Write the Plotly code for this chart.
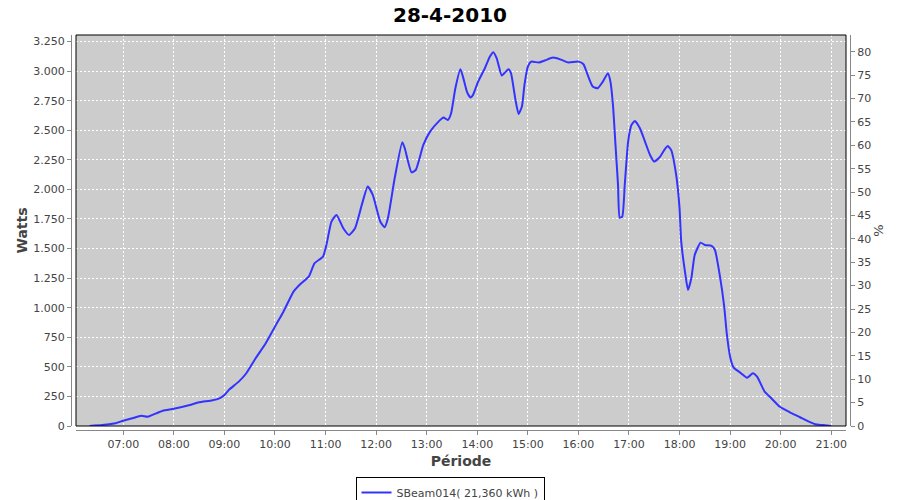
import plotly.graph_objects as go

DAY = "2010-04-28"
times = ["06:20","06:35","06:51","07:00","07:11","07:21","07:29","07:39","07:47","08:00",
         "08:19","08:30","08:46","08:54","09:00","09:06","09:17","09:26","09:37","09:49",
         "10:00","10:10","10:22","10:29","10:40","10:47","10:57","11:01","11:07","11:13",
         "11:21","11:28","11:35","11:43","11:50","11:56","12:05","12:10","12:14","12:22",
         "12:31","12:34","12:42","12:47","12:56","13:04","13:14","13:20","13:25","13:29",
         "13:34","13:40","13:43","13:48","13:52","13:55","14:01","14:09","14:15","14:19",
         "14:23","14:29","14:32","14:37","14:40","14:45","14:49","14:53","14:56","15:00",
         "15:04","15:13","15:20","15:30","15:40","15:48","16:00","16:06","16:11","16:17",
         "16:23","16:29","16:35","16:38","16:41","16:44","16:47","16:49","16:52","16:55",
         "16:59","17:03","17:07","17:13","17:19","17:25","17:30","17:37","17:42","17:46",
         "17:50","17:56","18:00","18:02","18:07","18:10","18:14","18:18","18:25","18:30",
         "18:38","18:42","18:48","18:53","18:56","19:00","19:04","19:12","19:20","19:27",
         "19:32","19:41","19:49","19:59","20:11","20:23","20:31","20:41","20:50","21:00"]
watts = [0,8,23,45,65,87,79,107,129,146,
         178,200,217,234,262,310,375,446,572,699,
         840,966,1136,1192,1262,1376,1432,1530,1727,1784,
         1672,1615,1672,1869,2024,1953,1727,1680,1756,2094,
         2399,2348,2145,2164,2376,2488,2573,2607,2587,2644,
         2855,3016,2953,2820,2776,2799,2911,3024,3123,3160,
         3109,2962,2982,3016,2982,2771,2638,2700,2883,3038,
         3080,3072,3089,3114,3095,3072,3080,3058,2968,2869,
         2855,2911,2982,2911,2714,2376,2038,1761,1770,2038,
         2404,2545,2579,2517,2404,2291,2235,2277,2334,2367,
         2334,2122,1841,1558,1277,1150,1249,1446,1550,1530,
         1522,1488,1263,1009,784,586,496,451,408,446,
         417,290,234,163,116,74,45,14,8,0]

title = "28-4-2010"
series_name = "SBeam014( 21,360 kWh )"
watt_ticks = list(range(0, 3251, 250))
pct_ticks = list(range(0, 81, 5))

x = [f"{DAY} {t}" for t in times]

FONT = "DejaVu Sans"
AX = "#888888"
TXT = "#444444"

fig = go.Figure()
fig.add_trace(go.Scatter(x=x, y=watts, mode="lines", name=series_name,
                         line=dict(color="#3333ff", width=2, shape="spline", smoothing=0.5),
                         showlegend=True))
# invisible trace to activate right axis
fig.add_trace(go.Scatter(x=[x[0]], y=[0], yaxis="y2", mode="markers",
                         marker=dict(opacity=0), showlegend=False, hoverinfo="skip"))

W, H = 900, 500
L, R, T, B = 70, 48, 35, 66
pw = W - L - R
ph = H - T - B
py1 = T + ph     # paper bottom in page pixels
xd0 = (76 - L) / pw
xd1 = (846 - L) / pw
yd0 = (py1 - 426) / ph

fig.update_layout(
    width=W, height=H,
    margin=dict(l=L, r=R, t=T, b=B, autoexpand=False),
    paper_bgcolor="white", plot_bgcolor="#cccccc",
    separators=",.",
    font=dict(family=FONT, size=11, color=TXT),
    title=dict(text=title, x=0.5, xanchor="center",
               y=1 - 15 / H, yanchor="middle",
               xref="container", yref="container",
               font=dict(family=FONT, size=20, color="black", weight="bold")),
    xaxis=dict(type="date", domain=[xd0, xd1], anchor="free", position=(py1 - 430) / ph,
               automargin=False,
               range=[f"{DAY} 06:03:54", f"{DAY} 21:17:30"],
               tick0=f"{DAY} 07:00", dtick=3600000, tickformat="%H:%M", tickangle=0,
               showline=True, linecolor=AX, linewidth=1,
               ticks="outside", ticklen=4, tickcolor=AX,
               showgrid=True, gridcolor="white", griddash="2px,2px", gridwidth=1,
               zeroline=False,
               title=dict(text="Période", font=dict(family=FONT, size=14, color=TXT, weight="bold"),
                          standoff=5),
               tickfont=dict(family=FONT, size=11, color=TXT)),
    yaxis=dict(domain=[yd0, 1], anchor="free", position=(71 - L) / pw,
               automargin=False,
               range=[0, 3305], tickvals=watt_ticks, tickformat=",d",
               showline=True, linecolor=AX, linewidth=1,
               ticks="outside", ticklen=4, tickcolor=AX,
               showgrid=True, gridcolor="white", griddash="2px,2px", gridwidth=1,
               zeroline=False,
               title=dict(text="Watts", font=dict(family=FONT, size=14, color=TXT, weight="bold"),
                          standoff=1),
               tickfont=dict(family=FONT, size=11, color=TXT)),
    yaxis2=dict(overlaying="y", side="right", anchor="free", position=(850 - L) / pw,
                automargin=False,
                range=[0, 83.57], tickvals=pct_ticks,
                showline=True, linecolor=AX, linewidth=1,
                ticks="outside", ticklen=4, tickcolor=AX,
                showgrid=False, zeroline=False,
                title=dict(text="%", font=dict(family=FONT, size=13, color=TXT), standoff=3),
                tickfont=dict(family=FONT, size=11, color=TXT)),
    legend=dict(orientation="h", x=0.5, xanchor="center", xref="container",
                y=1 - 477 / H, yanchor="top", yref="container",
                bordercolor="black", borderwidth=1, bgcolor="white",
                font=dict(family=FONT, size=11, color=TXT),
                itemwidth=30, tracegroupgap=0),
    showlegend=True,
)
fig.add_shape(type="rect", xref="x domain", yref="y domain", x0=0, x1=1, y0=0, y1=1,
              line=dict(color="black", width=1), layer="above")

fig.write_html("out.html", config={"displayModeBar": False},
               post_script="document.body.style.margin='0px';document.body.style.overflow='hidden';")
